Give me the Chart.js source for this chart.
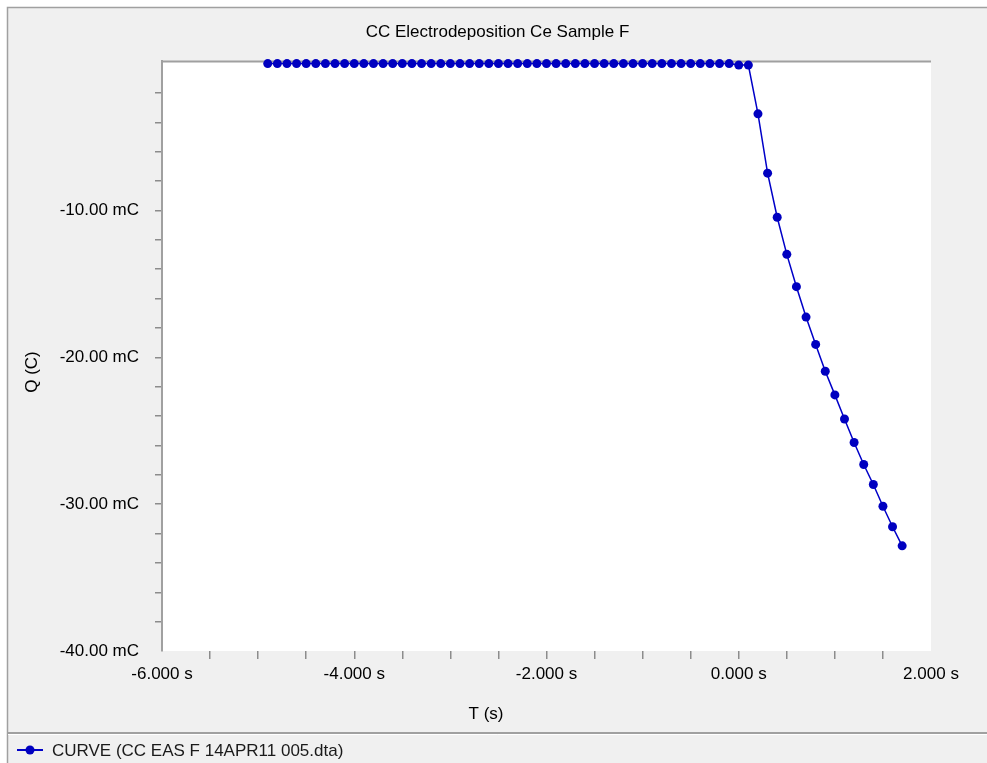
<!DOCTYPE html>
<html>
<head>
<meta charset="utf-8">
<title>CC Electrodeposition Ce Sample F</title>
<script src="https://cdn.jsdelivr.net/npm/chart.js@4/dist/chart.umd.min.js"></script>
<style>
  html, body { margin: 0; padding: 0; background: #fff; }
  canvas { display: block; }
</style>
</head>
<body>
<canvas id="qtChart" width="987" height="763"></canvas>
<script>
// Charge vs time, CC EAS F 14APR11 005.dta
const timeS = [
  -4.9, -4.8, -4.7, -4.6, -4.5, -4.4, -4.3, -4.2, -4.1, -4.0,
  -3.9, -3.8, -3.7, -3.6, -3.5, -3.4, -3.3, -3.2, -3.1, -3.0,
  -2.9, -2.8, -2.7, -2.6, -2.5, -2.4, -2.3, -2.2, -2.1, -2.0,
  -1.9, -1.8, -1.7, -1.6, -1.5, -1.4, -1.3, -1.2, -1.1, -1.0,
  -0.9, -0.8, -0.7, -0.6, -0.5, -0.4, -0.3, -0.2, -0.1, 0.0,
  0.1, 0.2, 0.3, 0.4, 0.5, 0.6, 0.7, 0.8, 0.9, 1.0,
  1.1, 1.2, 1.3, 1.4, 1.5, 1.6, 1.7
];
// charge in mC
const chargeMC = [
  0.0, 0.0, 0.0, 0.0, 0.0, 0.0, 0.0, 0.0, 0.0, 0.0,
  0.0, 0.0, 0.0, 0.0, 0.0, 0.0, 0.0, 0.0, 0.0, 0.0,
  0.0, 0.0, 0.0, 0.0, 0.0, 0.0, 0.0, 0.0, 0.0, 0.0,
  0.0, 0.0, 0.0, 0.0, 0.0, 0.0, 0.0, 0.0, 0.0, 0.0,
  0.0, 0.0, 0.0, 0.0, 0.0, 0.0, 0.0, 0.0, 0.0, -0.1,
  -0.1, -3.42, -7.46, -10.46, -12.99, -15.19, -17.26, -19.12, -20.95, -22.56,
  -24.20, -25.80, -27.30, -28.66, -30.14, -31.54, -32.84
];
const xTickLabelsS = [-6, -4, -2, 0, 2];
const yTickLabelsMC = [-10, -20, -30, -40];

const FONT = { family: '"Liberation Sans", Arial, sans-serif', size: 17 };
const GREY = '#a0a0a0';
const BLUE = '#0000c8';

// window frame, plot background, legend strip and axis titles
const framePlugin = {
  id: 'frame',
  beforeDraw(chart) {
    const { ctx, width, height, chartArea: a } = chart;
    ctx.save();
    ctx.fillStyle = '#ffffff';
    ctx.fillRect(0, 0, width, height);
    ctx.fillStyle = '#f0f0f0';
    ctx.fillRect(8, 8, width - 8, height - 8);
    ctx.strokeStyle = GREY;
    ctx.lineWidth = 1.5;
    ctx.beginPath();
    ctx.moveTo(7.5, height);
    ctx.lineTo(7.5, 7.5);
    ctx.lineTo(width, 7.5);
    ctx.stroke();
    ctx.fillStyle = '#ffffff';
    ctx.fillRect(a.left, a.top, a.right - a.left, a.bottom - a.top);
    ctx.lineWidth = 2;
    ctx.beginPath();
    ctx.moveTo(a.left, a.top);
    ctx.lineTo(a.right, a.top);
    ctx.stroke();
    ctx.restore();
  },
  afterDraw(chart) {
    const { ctx, width } = chart;
    const ds = chart.data.datasets[0];
    ctx.save();
    // legend separator
    ctx.strokeStyle = GREY;
    ctx.lineWidth = 2;
    ctx.beginPath();
    ctx.moveTo(8, 733);
    ctx.lineTo(width, 733);
    ctx.stroke();
    ctx.strokeStyle = '#ffffff';
    ctx.lineWidth = 1;
    ctx.beginPath();
    ctx.moveTo(8, 734.5);
    ctx.lineTo(width, 734.5);
    ctx.stroke();
    // legend entry
    ctx.strokeStyle = ds.borderColor;
    ctx.lineWidth = 2;
    ctx.beginPath();
    ctx.moveTo(17, 750);
    ctx.lineTo(43, 750);
    ctx.stroke();
    ctx.fillStyle = ds.pointBackgroundColor;
    ctx.beginPath();
    ctx.arc(30, 750, 4.5, 0, Math.PI * 2);
    ctx.fill();
    ctx.font = FONT.size + 'px ' + FONT.family;
    ctx.fillStyle = '#1a1a1a';
    ctx.textBaseline = 'middle';
    ctx.textAlign = 'left';
    ctx.fillText(ds.label, 52, 751);
    // axis titles
    ctx.fillStyle = '#000';
    ctx.textAlign = 'center';
    ctx.fillText('T (s)', 486, 714);
    ctx.translate(32, 372);
    ctx.rotate(-Math.PI / 2);
    ctx.fillText('Q (C)', 0, 0);
    ctx.restore();
  }
};

const isMultiple = (v, step) => Math.abs(v / step - Math.round(v / step)) < 1e-6;

new Chart(document.getElementById('qtChart'), {
  type: 'scatter',
  data: {
    datasets: [{
      label: 'CURVE (CC EAS F 14APR11 005.dta)',
      data: timeS.map((t, i) => ({ x: t, y: chargeMC[i] })),
      showLine: true,
      borderColor: BLUE,
      borderWidth: 1.5,
      pointRadius: 4.5,
      pointHoverRadius: 4.5,
      pointBackgroundColor: '#0000c0',
      pointBorderWidth: 0,
      clip: false
    }]
  },
  options: {
    responsive: false,
    animation: false,
    devicePixelRatio: 1,
    layout: { padding: { left: 8, top: 8, right: 0, bottom: 30 } },
    plugins: {
      legend: { display: false },
      tooltip: { enabled: false },
      title: {
        display: true,
        text: 'CC Electrodeposition Ce Sample F',
        color: '#000',
        font: { ...FONT, weight: 'normal' },
        padding: { top: 14, bottom: 19 }
      }
    },
    scales: {
      x: {
        type: 'linear',
        min: -6,
        max: 2,
        afterFit: s => { s.height = 82; },
        border: { display: false },
        grid: {
          drawOnChartArea: false,
          tickLength: 8,
          lineWidth: 1.5,
          color: c => (c.tick && (c.tick.value <= -6 || c.tick.value >= 2)) ? 'rgba(0,0,0,0)' : '#8c8c8c'
        },
        ticks: {
          stepSize: 0.5,
          autoSkip: false,
          maxRotation: 0,
          minRotation: 0,
          padding: 5,
          color: '#000',
          font: FONT,
          callback: v => xTickLabelsS.some(l => Math.abs(l - v) < 1e-6) ? v.toFixed(3) + ' s' : ''
        }
      },
      y: {
        type: 'linear',
        min: -40,
        max: 0.15,
        afterFit: s => { s.width = 154; },
        border: { display: true, color: GREY, width: 2 },
        grid: {
          drawOnChartArea: false,
          tickLength: 7,
          lineWidth: 1.5,
          color: c => (c.tick && (c.tick.value <= -40 || c.tick.value >= 0 || !isMultiple(c.tick.value, 2))) ? 'rgba(0,0,0,0)' : '#8c8c8c'
        },
        ticks: {
          stepSize: 2,
          autoSkip: false,
          padding: 16,
          color: '#000',
          font: FONT,
          callback: v => yTickLabelsMC.some(l => Math.abs(l - v) < 1e-6) ? v.toFixed(2) + ' mC' : ''
        }
      },
      // spacer on the right so the plot stops short of the window edge
      yRight: {
        position: 'right',
        display: true,
        afterFit: s => { s.width = 56; },
        border: { display: false },
        grid: { display: false },
        ticks: { display: false }
      }
    }
  },
  plugins: [framePlugin]
});
</script>
</body>
</html>
